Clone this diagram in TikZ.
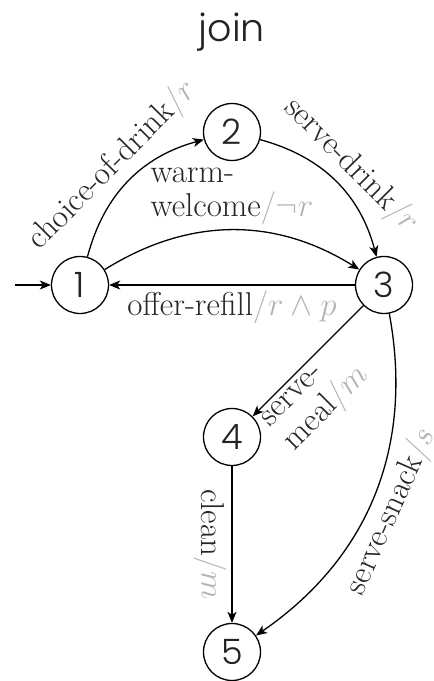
\RequirePackage{fix-cm}
\documentclass[tikz,border=0pt]{standalone}
\usepackage{fontspec}
\usetikzlibrary{arrows.meta}
\newfontfamily\gothic{Poppins Light}
\definecolor{guardgray}{HTML}{B4B4B4}
\definecolor{inkdark}{HTML}{222222}
% guard part of a transition label, e.g. /r
\newcommand{\guard}[1]{{\color{guardgray}$/#1$}}
\begin{document}
\begin{tikzpicture}[x=1pt,y=1pt,
  state/.style={circle,draw=black,line width=1.3pt,minimum size=57pt,inner sep=0pt,
    font=\gothic\fontsize{35}{35}\selectfont,text=inkdark},
  trans/.style={-{Stealth[length=11pt,width=9pt,inset=3pt]},line width=1.3pt},
  lbl/.style={font=\fontsize{33}{34}\selectfont,inner sep=5pt,text=black!85}]
\useasboundingbox (0,0) rectangle (434,681);

\node[font=\gothic\fontsize{38}{38}\selectfont,text=inkdark] (title) at (232,649) {join};

\node[state] (s1) at (80,396) {1};
\node[state] (s2) at (232,549) {2};
\node[state] (s3) at (384,396) {3};
\node[state] (s4) at (232,244) {4};
\node[state] (s5) at (232,29) {5};

\coordinate (init) at (15,396);
\draw[trans] (init) -- (s1);

\draw[trans] (s1) to[bend left=30]
  node[lbl,above,sloped] {choice-of-drink\guard{r}} (s2);
\draw[trans] (s2) to[bend left=30]
  node[lbl,above,sloped] {serve-drink\guard{r}} (s3);
\draw[trans] (s1) to[bend left=32]
  node[lbl,above,align=left] {warm-\\welcome\guard{\neg r}} (s3);
\draw[trans] (s3) -- node[lbl,below] {offer-refill\guard{r\wedge p}} (s1);
\draw[trans] (s3) -- node[lbl,below,sloped,align=left,pos=0.63] {serve-\\meal\guard{m}} (s4);
\draw[trans] (s3) to[bend left=33]
  node[lbl,below,sloped,pos=0.52] {serve-snack\guard{s}} (s5);
\draw[trans] (s4) -- node[lbl,below,sloped] {clean\guard{m}} (s5);
\end{tikzpicture}
\end{document}
